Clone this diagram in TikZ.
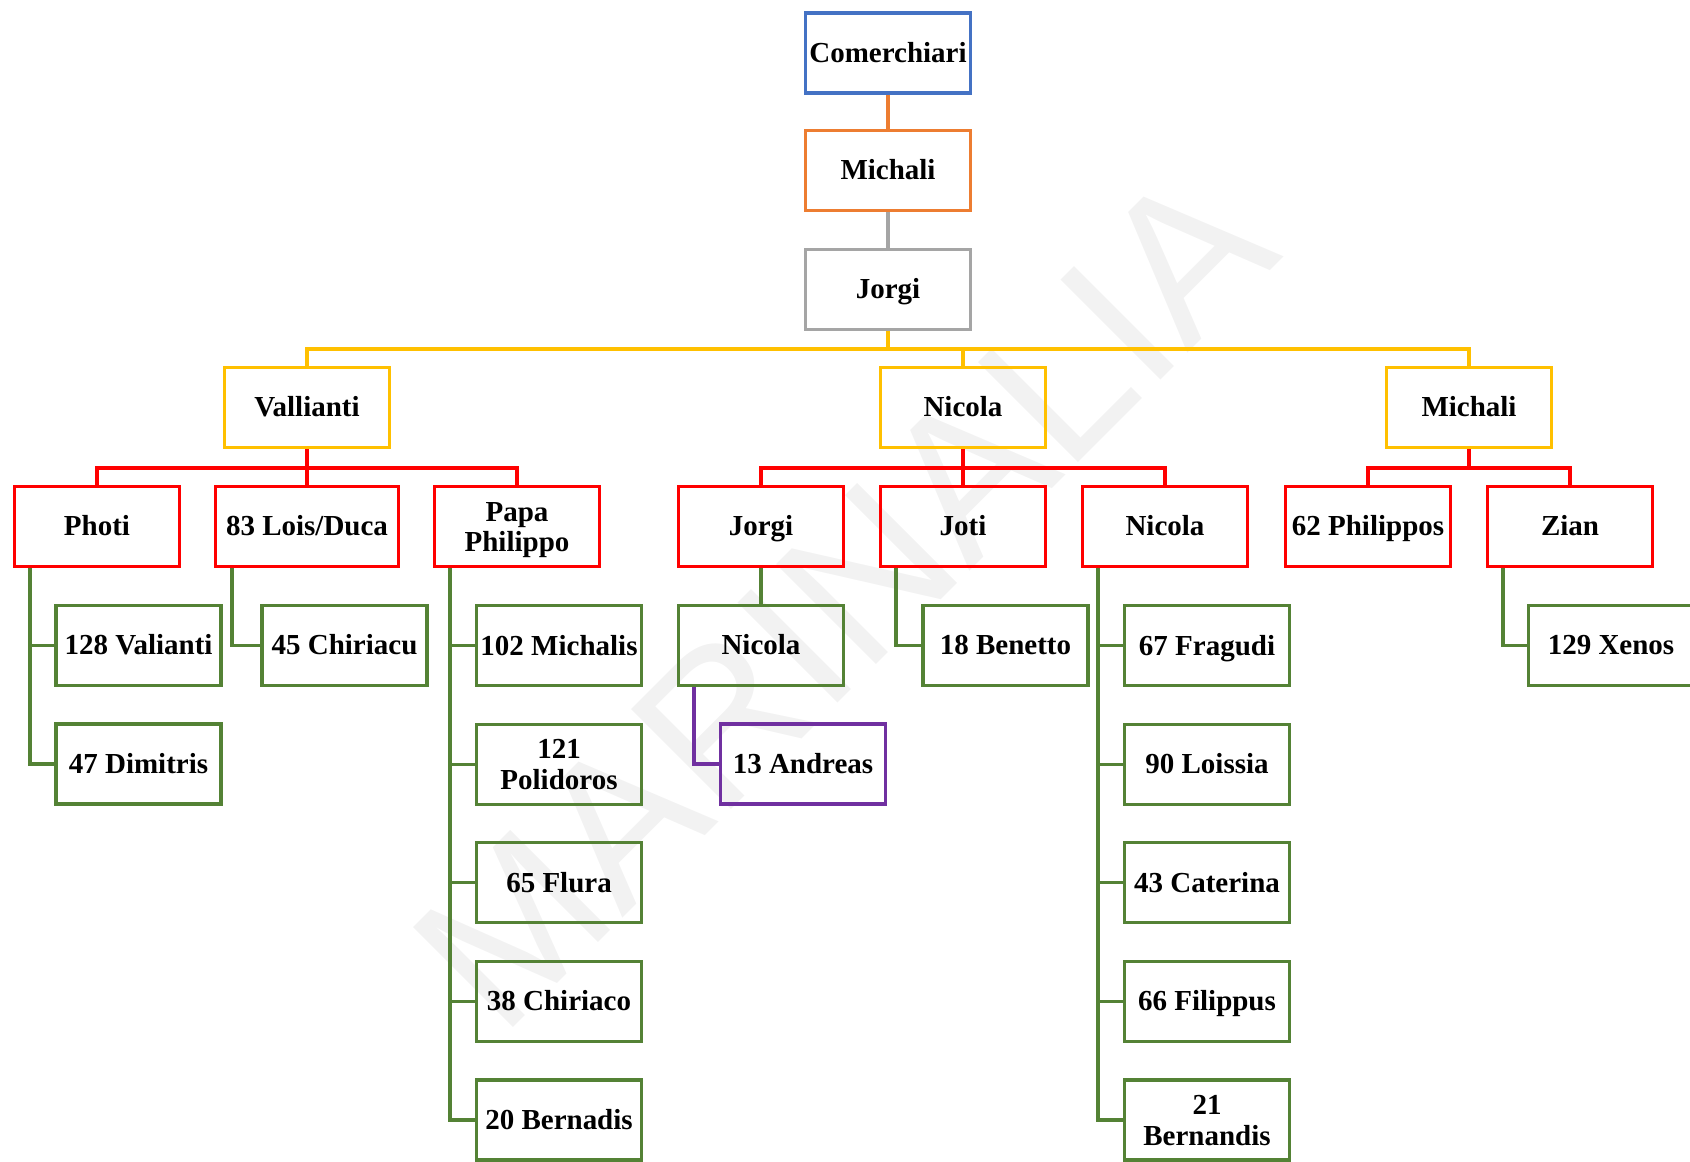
\documentclass[tikz,border=0pt]{standalone}
\usepackage{fontspec}
\setmainfont{Liberation Serif}
\newfontfamily\wmfont{Liberation Sans}
\definecolor{cblue}{HTML}{4472C4}
\definecolor{corange}{HTML}{ED7D31}
\definecolor{cgray}{HTML}{A5A5A5}
\definecolor{cyellow}{HTML}{FFC000}
\definecolor{cred}{HTML}{FF0000}
\definecolor{cgreen}{HTML}{548235}
\definecolor{cpurple}{HTML}{7030A0}
\newcommand\boxstrut{\rule[-4pt]{0pt}{18.8pt}}
\tikzset{
  box/.style={draw,line width=1.8pt,minimum width=3.3cm,minimum height=1.6cm,
    align=center,inner sep=1pt,font=\fontsize{16.5}{17.5}\selectfont\bfseries,
    execute at begin node=\boxstrut,execute at end node=\boxstrut},
  twoline/.style={execute at begin node={\rule{0pt}{33pt}}},
  lv0/.style={box,draw=cblue},
  lv1/.style={box,draw=corange},
  lv2/.style={box,draw=cgray},
  lv3/.style={box,draw=cyellow},
  lv4/.style={box,draw=cred},
  lv5/.style={box,draw=cgreen},
  lv6/.style={box,draw=cpurple},
  link/.style={line width=1.8pt}
}
\begin{document}
\begin{tikzpicture}[x=0.02cm,y=-0.02cm]
  \useasboundingbox (0,0) rectangle (1690,1162);
  % watermark
  \node[rotate=45,text=black!5,font=\wmfont\fontsize{117}{117}\selectfont] (wm) at (843,598) {MARINALIA};
  % top line
  \node[lv0] (top) at (888,53) {Comerchiari};
  \node[lv1] (mich) at (888,170.5) {Michali};
  \node[lv2] (jorgi) at (888,289.5) {Jorgi};
  \draw[link,corange] (top) -- (mich);
  \draw[link,cgray] (mich) -- (jorgi);
  % sons of Jorgi
  \node[lv3] (vall) at (307,407.5) {Vallianti};
  \node[lv3] (nic) at (963,407.5) {Nicola};
  \node[lv3] (mich2) at (1469,407.5) {Michali};
  \coordinate (b0) at (888,349);
  \draw[link,cyellow] (jorgi.south) -- (b0) -| (vall.north);
  \draw[link,cyellow] (b0) -| (nic.north);
  \draw[link,cyellow] (b0) -| (mich2.north);
  % grandsons
  \node[lv4] (photi) at (97,526.5) {Photi};
  \node[lv4,minimum width=3.66cm] (lois) at (307,526.5) {83 Lois/Duca};
  \node[lv4,twoline] (papa) at (517,526.5) {Papa\\Philippo};
  \node[lv4] (jorgi2) at (761,526.5) {Jorgi};
  \node[lv4] (joti) at (963,526.5) {Joti};
  \node[lv4] (nic2) at (1165,526.5) {Nicola};
  \node[lv4] (phil) at (1368,526.5) {62 Philippos};
  \node[lv4] (zian) at (1570,526.5) {Zian};
  \coordinate (b1) at (307,468);
  \coordinate (b2) at (963,468);
  \coordinate (b3) at (1469,468);
  \draw[link,cred] (vall.south) -- (b1);
  \draw[link,cred] (b1) -| (photi.north);
  \draw[link,cred] (b1) -- (lois.north);
  \draw[link,cred] (b1) -| (papa.north);
  \draw[link,cred] (nic.south) -- (b2);
  \draw[link,cred] (b2) -| (jorgi2.north);
  \draw[link,cred] (b2) -- (joti.north);
  \draw[link,cred] (b2) -| (nic2.north);
  \draw[link,cred] (mich2.south) -- (b3);
  \draw[link,cred] (b3) -| (phil.north);
  \draw[link,cred] (b3) -| (zian.north);
  % great-grandsons
  \node[lv5] (v1) at (138.5,645.5) {128 Valianti};
  \node[lv5] (v2) at (138.5,764) {47 Dimitris};
  \node[lv5] (l1) at (344.5,645.5) {45 Chiriacu};
  \node[lv5] (j1) at (761,645.5) {Nicola};
  \node[lv6] (j2) at (803,764) {13 Andreas};
  \node[lv5] (t1) at (1005.5,645.5) {18 Benetto};
  \node[lv5] (z1) at (1611,645.5) {129 Xenos};
  \foreach \lab/\s [count=\i] in {102 Michalis/,{121\\Polidoros}/twoline,65 Flura/,38 Chiriaco/,20 Bernadis/}
    \node[lv5,\s] (p\i) at (559,527+118.6*\i) {\lab};
  \foreach \lab/\s [count=\i] in {67 Fragudi/,90 Loissia/,43 Caterina/,66 Filippus/,{21\\Bernandis}/twoline}
    \node[lv5,\s] (n\i) at (1207,527+118.6*\i) {\lab};
  \foreach \c in {v1,v2}
    \draw[link,cgreen] ([xshift=0.34cm]photi.south west) |- (\c.west);
  \draw[link,cgreen] ([xshift=0.36cm]lois.south west) |- (l1.west);
  \foreach \i in {1,...,5}
    \draw[link,cgreen] ([xshift=0.34cm]papa.south west) |- (p\i.west);
  \draw[link,cgreen] (jorgi2) -- (j1);
  \draw[link,cpurple] ([xshift=0.34cm]j1.south west) |- (j2.west);
  \draw[link,cgreen] ([xshift=0.34cm]joti.south west) |- (t1.west);
  \foreach \i in {1,...,5}
    \draw[link,cgreen] ([xshift=0.34cm]nic2.south west) |- (n\i.west);
  \draw[link,cgreen] ([xshift=0.34cm]zian.south west) |- (z1.west);
\end{tikzpicture}
\end{document}
